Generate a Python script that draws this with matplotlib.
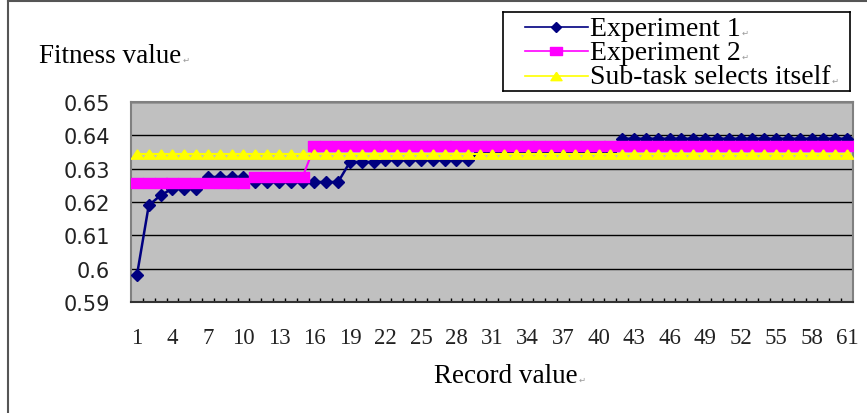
import numpy as np
import matplotlib
matplotlib.use("Agg")
import matplotlib.pyplot as plt

# values
records = list(range(1, 62))
exp1 = ([0.598, 0.619, 0.622, 0.624, 0.624, 0.624]
        + [0.6275] * 4 + [0.626] * 8 + [0.632] * 3
        + [0.6326] * 8 + [0.635] * 12 + [0.639] * 20)
exp2 = [0.6256] * 10 + [0.6275] * 5 + [0.6367] * 46
selfsel = [0.6345] * 61
yticks = [0.59, 0.60, 0.61, 0.62, 0.63, 0.64, 0.65]
ylabels = ["0.59", "0.6", "0.61", "0.62", "0.63", "0.64", "0.65"]
xticks = list(range(1, 62, 3))
names = ["Experiment 1", "Experiment 2", "Sub-task selects itself"]

W, H = 867, 414
serif = ["Liberation Serif", "DejaVu Serif"]

fig = plt.figure(figsize=(W / 100, H / 100), dpi=100)

def px(x0, y0, x1, y1):
    # pixel box (top-left origin) -> figure fraction rect
    return [x0 / W, 1 - y1 / H, (x1 - x0) / W, (y1 - y0) / H]

ax = fig.add_axes(px(131, 103, 853, 303))
ax.set_facecolor("#c0c0c0")

sq = [(-1.3, -1), (1.3, -1), (1.3, 1), (-1.3, 1), (-1.3, -1)]
tri = [(0, 0.75), (-1, -0.75), (1, -0.75), (0, 0.75)]

ax.plot(records, exp1, color="#000080", lw=1.8, marker="D", ms=6.5, zorder=3)
ax.plot(records, exp2, color="#ff00ff", lw=1.5, marker=sq, ms=9, zorder=4)
ax.plot(records, selfsel, color="#ffff00", lw=1.5, marker=tri, ms=9, zorder=5)

ax.set_xlim(0.5, 61.5)
ax.set_ylim(0.59, 0.65)
ax.set_yticks(yticks)
ax.set_yticklabels(ylabels, fontsize=15, family="DejaVu Sans", color="#222222")
ax.set_xticks(xticks)
ax.set_xticklabels([str(v) for v in xticks], fontsize=16.5, family=serif, color="#222222")
ax.set_xticks(np.arange(1.5, 61, 1), minor=True)
ax.tick_params(axis="y", length=0, pad=15)
ax.tick_params(axis="x", which="major", length=0, pad=18)
ax.tick_params(axis="x", which="minor", direction="in", length=3, width=1, color="black")
ax.yaxis.grid(True, color="black", lw=1)
ax.set_axisbelow(True)
for s in ax.spines.values():
    s.set_color("#808080")
    s.set_linewidth(1.5)
ax.spines["bottom"].set_color("#333333")

# outer border (left and top only visible in the crop)
fig.add_artist(plt.Line2D([7.5 / W, 7.5 / W], [0, 1 - 2 / H], color="#555555", lw=1.5))
fig.add_artist(plt.Line2D([7.5 / W, 1], [1 - 2 / H, 1 - 2 / H], color="#555555", lw=1.5))

t1 = fig.text(39 / W, 1 - 63 / H, "Fitness value", fontsize=19.5, family=serif, va="baseline")
t2 = fig.text(434 / W, 1 - 383 / H, "Record value", fontsize=19.5, family=serif, va="baseline")

# legend box drawn by hand in pixel coordinates
lax = fig.add_axes(px(503, 13, 850, 92))
lax.set_xlim(503, 850)
lax.set_ylim(92, 13)
lax.set_xticks([])
lax.set_yticks([])
for s in lax.spines.values():
    s.set_color("black")
    s.set_linewidth(1.2)
styles = [("#000080", "D", 5.5), ("#ff00ff", sq, 8), ("#ffff00", tri, 8)]
line_y = [28, 52, 77]
base_y = [36, 60, 84]
texts = [t1, t2]
for (c, m, ms), ly, by, name in zip(styles, line_y, base_y, names):
    lax.plot([525, 588], [ly, ly], color=c, lw=1.2)
    lax.plot([556], [ly], color=c, marker=m, ms=ms, lw=0)
    texts.append(lax.text(590, by, name, fontsize=20, family=serif, va="baseline"))

# small paragraph marks after the texts
fig.canvas.draw()
r = fig.canvas.get_renderer()
for t in texts:
    bb = t.get_window_extent(r)
    x, y = t.get_transform().transform(t.get_position())
    fig.text((bb.x1 + 1) / W, y / H, "\u21b5", fontsize=6, color="#999999",
             family="DejaVu Sans", va="baseline")

fig.savefig("out.png", dpi=100)
